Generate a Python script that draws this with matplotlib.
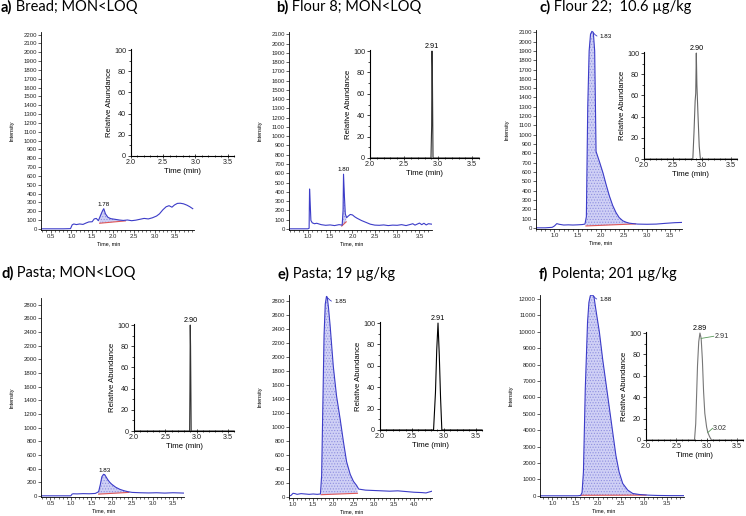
import numpy as np
import matplotlib
matplotlib.use("Agg")
import matplotlib.pyplot as plt
from matplotlib.ticker import MultipleLocator

plt.rcParams['font.family'] = ['Liberation Sans', 'DejaVu Sans']
plt.rcParams['hatch.linewidth'] = 0.5

W, H = 746, 516

# panel titles
letters = ['a)', 'b)', 'c)', 'd)', 'e)', 'f)']
titles = ['Bread; MON<LOQ', 'Flour 8; MON<LOQ', 'Flour 22;  10.6 µg/kg',
          'Pasta; MON<LOQ', 'Pasta; 19 µg/kg', 'Polenta; 201 µg/kg']

# main chromatograms (Time, min / Intensity)
a_t = [0.27, 0.5, 0.8, 0.98, 1.02, 1.06, 1.12, 1.2, 1.28, 1.35, 1.42, 1.5, 1.55, 1.6, 1.65, 1.7,
       1.75, 1.78, 1.82, 1.88, 1.95, 2.05, 2.15, 2.25, 2.35, 2.45, 2.55, 2.65, 2.75, 2.85, 2.95,
       3.05, 3.12, 3.2, 3.28, 3.35, 3.42, 3.48, 3.55, 3.62, 3.7, 3.78, 3.85, 3.92]
a_i = [0, 0, 0, 2, 45, 55, 48, 55, 50, 65, 78, 80, 112, 118, 92, 150,
       205, 228, 170, 130, 115, 108, 100, 95, 100, 92, 98, 108, 118, 112, 125,
       145, 170, 215, 250, 262, 245, 270, 288, 290, 283, 268, 250, 228]

b_t = [0.58, 0.8, 1.0, 1.03, 1.04, 1.05, 1.07, 1.1, 1.15, 1.2, 1.3, 1.4, 1.5, 1.6, 1.7, 1.77,
       1.79, 1.8, 1.82, 1.84, 1.87, 1.9, 1.95, 2.0, 2.05, 2.1, 2.2, 2.3, 2.4, 2.5, 2.6, 2.7,
       2.8, 2.9, 3.0, 3.1, 3.2, 3.3, 3.35, 3.4, 3.5, 3.55, 3.6, 3.65, 3.7, 3.78]
b_i = [0, 0, 0, 5, 430, 330, 90, 65, 55, 60, 45, 38, 42, 35, 45, 40,
       200, 590, 350, 160, 120, 135, 155, 150, 130, 115, 90, 70, 50, 40, 38, 42,
       35, 40, 38, 45, 35, 48, 55, 40, 62, 45, 60, 42, 55, 50]

c_t = [0.6, 0.8, 0.95, 1.0, 1.05, 1.1, 1.2, 1.3, 1.4, 1.5, 1.6, 1.66, 1.69, 1.72, 1.75, 1.78,
       1.81, 1.84, 1.87, 1.9, 1.98, 2.05, 2.12, 2.19, 2.26, 2.33, 2.4, 2.48, 2.55, 2.62, 2.7,
       2.8, 3.0, 3.2, 3.4, 3.6, 3.76]
c_i = [0, 0, 5, 20, 45, 38, 30, 32, 30, 32, 35, 40, 120, 1300, 1900, 2080,
       2110, 2100, 1900, 820, 700, 590, 460, 340, 240, 165, 110, 75, 60, 50, 45,
       40, 38, 40, 48, 55, 58]

d_t = [0.27, 0.6, 0.9, 1.0, 1.03, 1.06, 1.15, 1.3, 1.45, 1.6, 1.68, 1.72, 1.76, 1.8, 1.83,
       1.86, 1.9, 1.95, 2.0, 2.1, 2.2, 2.3, 2.4, 2.5, 2.7, 2.9, 3.1, 3.3, 3.5, 3.77]
d_i = [0, 0, 0, 0, 25, 30, 28, 32, 30, 35, 60, 160, 280, 315, 310,
       280, 240, 200, 170, 125, 95, 75, 60, 50, 45, 42, 45, 40, 45, 40]

e_t = [0.9, 0.95, 1.0, 1.05, 1.1, 1.2, 1.3, 1.4, 1.5, 1.6, 1.68, 1.71, 1.74, 1.77, 1.8, 1.83,
       1.85, 1.88, 1.92, 2.0, 2.08, 2.17, 2.25, 2.33, 2.42, 2.5, 2.58, 2.63, 2.8, 3.0, 3.2,
       3.4, 3.6, 3.8, 4.0, 4.2, 4.3, 4.45]
e_i = [10, 20, 50, 45, 35, 45, 40, 35, 40, 35, 40, 300, 1300, 2300, 2750, 2860,
       2850, 2700, 2450, 1860, 1440, 1110, 790, 500, 320, 220, 160, 110, 95, 90, 85,
       80, 85, 75, 65, 60, 55, 80]

f_t = [0.73, 1.0, 1.3, 1.55, 1.62, 1.65, 1.68, 1.72, 1.77, 1.8, 1.83, 1.86, 1.88, 1.91, 1.95,
       2.03, 2.10, 2.17, 2.24, 2.32, 2.39, 2.46, 2.54, 2.65, 2.76, 2.9, 3.0, 3.1, 3.3, 3.6, 3.88]
f_i = [0, 0, 0, 0, 20, 200, 1460, 6500, 10600, 11800, 12200, 12250, 12250, 12150, 11400,
       9970, 8350, 6930, 5510, 3890, 2470, 1460, 750, 345, 140, 80, 60, 40, 20, 10, 10]

# integration baselines (start/end time, intensity)
a_bl_t, a_bl_i = [1.68, 2.30], [63, 90]
b_bl_t, b_bl_i = [1.76, 1.86], [30, 75]
c_bl_t, c_bl_i = [1.68, 2.75], [20, 42]
d_bl_t, d_bl_i = [1.68, 2.42], [25, 50]
e_bl_t, e_bl_i = [1.70, 2.60], [30, 50]
f_bl_t, f_bl_i = [1.63, 3.05], [30, 40]

# apex labels of the main peaks
main_rt = [1.78, 1.80, 1.83, 1.83, 1.85, 1.88]

# insets (Time, min / Relative Abundance)
ins_a_t, ins_a_r = [], []
ins_b_t = [2.0, 2.895, 2.905, 2.91, 2.915, 2.925, 3.6]
ins_b_r = [0, 0, 30, 100, 85, 0, 0]
ins_c_t = [2.0, 2.84, 2.86, 2.88, 2.89, 2.90, 2.91, 2.93, 2.95, 2.97, 3.6]
ins_c_r = [0, 0, 25, 55, 62, 100, 70, 40, 12, 0, 0]
ins_d_t = [2.0, 2.89, 2.895, 2.90, 2.905, 2.915, 3.6]
ins_d_r = [0, 0, 40, 100, 80, 0, 0]
ins_e_t = [2.0, 2.84, 2.87, 2.89, 2.91, 2.93, 2.95, 2.97, 3.6]
ins_e_r = [0, 0, 35, 75, 100, 70, 30, 0, 0]
ins_f_t = [2.0, 2.8, 2.82, 2.85, 2.87, 2.89, 2.91, 2.93, 2.95, 2.97, 3.0, 3.02, 3.05, 3.08, 3.6]
ins_f_r = [0, 0, 15, 70, 92, 100, 95, 75, 45, 25, 12, 7, 3, 0, 0]
ins_rt = [None, '2.91', '2.90', '2.90', '2.91', '2.89']
ins_color = ['#333333', '#333333', '#666666', '#333333', '#000000', '#777777']

mains = [(a_t, a_i, a_bl_t, a_bl_i), (b_t, b_i, b_bl_t, b_bl_i), (c_t, c_i, c_bl_t, c_bl_i),
         (d_t, d_i, d_bl_t, d_bl_i), (e_t, e_i, e_bl_t, e_bl_i), (f_t, f_i, f_bl_t, f_bl_i)]
insets = [(ins_a_t, ins_a_r), (ins_b_t, ins_b_r), (ins_c_t, ins_c_r),
          (ins_d_t, ins_d_r), (ins_e_t, ins_e_r), (ins_f_t, ins_f_r)]

# layout in pixels: left, right, y of zero, y of top
main_box = [(41, 194, 230, 32), (289, 432, 230, 32), (536, 682, 229, 30),
            (41, 184, 497, 298), (289, 432, 498, 295), (540, 684, 497, 295)]
main_xlim = [(0.27, 3.95), (0.58, 3.78), (0.6, 3.76), (0.27, 3.77), (0.9, 4.45), (0.73, 3.88)]
main_ytop = [2230, 2125, 2125, 2900, 2880, 12250]
main_ystep = [100, 100, 100, 200, 200, 1000]
label_side = ['top', 'top', 'right', 'top', 'right', 'right']
ins_box = [(131, 234, 156, 49), (370, 479, 158, 50), (644, 737, 159, 52),
           (134, 234, 431, 324), (380, 482, 430, 322), (646, 743, 440, 332)]
title_pos = [(1, 7), (276, 7), (539, 7), (1, 273), (277, 274), (539, 274)]

BLUE = '#3c3cc8'
RED = '#e05858'


def px_box(l, r, b, t):
    return [l / W, 1 - b / H, (r - l) / W, (b - t) / H]


fig = plt.figure(figsize=(W / 100, H / 100), dpi=100)

for k in range(6):
    t, y, blt, bly = mains[k]
    t = np.array(t)
    y = np.array(y)
    l, r, b, tp = main_box[k]
    ax = fig.add_axes(px_box(l, r, b, tp))
    ytop = main_ytop[k]
    # hatched integrated area between trace and baseline
    sel = (t >= blt[0]) & (t <= blt[1])
    tt = np.concatenate([[blt[0]], t[sel], [blt[1]]])
    yy = np.concatenate([[np.interp(blt[0], t, y)], y[sel], [np.interp(blt[1], t, y)]])
    base = np.interp(tt, blt, bly)
    ax.fill_between(tt, base, yy, facecolor='#cfd0f5', edgecolor='#8f8fe0',
                    hatch='......', linewidth=0)
    ax.plot(blt, bly, color=RED, lw=0.8)
    ax.plot(t, y, color=BLUE, lw=0.8)
    ax.set_xlim(*main_xlim[k])
    ax.set_ylim(-ytop * 0.006, ytop)
    ax.yaxis.set_major_locator(MultipleLocator(main_ystep[k]))
    ax.xaxis.set_major_locator(MultipleLocator(0.5))
    ax.xaxis.set_minor_locator(MultipleLocator(0.1))
    ax.xaxis.set_major_formatter(lambda v, p: '%.1f' % v)
    ax.yaxis.set_major_formatter(lambda v, p: '%d' % round(v))
    for s in ['top', 'right']:
        ax.spines[s].set_visible(False)
    for s in ['left', 'bottom']:
        ax.spines[s].set_linewidth(0.6)
    ax.tick_params(which='major', labelsize=4.3, length=2, width=0.5, pad=1, colors='#222222')
    ax.tick_params(which='minor', length=1.2, width=0.4)
    # axis titles placed in figure pixels
    fig.text((l - 29) / W, 1 - (b + tp) / 2 / H, 'Intensity', fontsize=4, rotation=90,
             ha='center', va='center')
    fig.text((l + 0.44 * (r - l)) / W, 1 - (b + 14) / H, 'Time, min', fontsize=3.8,
             ha='center', va='center')
    rt = main_rt[k]
    apex = np.interp(rt, t, y)
    if label_side[k] == 'top':
        ax.annotate('%.2f' % rt, (rt, apex), xytext=(0, 1.5), textcoords='offset points',
                    ha='center', va='bottom', fontsize=4.5)
    else:
        ax.annotate('%.2f' % rt, (rt, apex), xytext=(5, -3), textcoords='offset points',
                    ha='left', va='center', fontsize=4.5,
                    arrowprops=dict(arrowstyle='-', color=BLUE, lw=0.6,
                                    connectionstyle='arc3,rad=-0.4', shrinkA=0, shrinkB=1))

    # inset
    it, ir = insets[k]
    ia = fig.add_axes(px_box(*ins_box[k]))
    if len(it):
        ia.plot(it, ir, color=ins_color[k], lw=0.8)
    ia.set_xlim(2.0, 3.6)
    ia.set_ylim(0, 101)
    ia.xaxis.set_major_locator(MultipleLocator(0.5))
    ia.xaxis.set_minor_locator(MultipleLocator(0.1))
    ia.yaxis.set_major_locator(MultipleLocator(20))
    ia.yaxis.set_minor_locator(MultipleLocator(10))
    ia.xaxis.set_major_formatter(lambda v, p: '%.1f' % v)
    for s in ['top', 'right']:
        ia.spines[s].set_visible(False)
    for s in ['left', 'bottom']:
        ia.spines[s].set_linewidth(0.8)
    ia.tick_params(which='major', labelsize=5.2, length=2.5, width=0.6, pad=1, colors='#222222')
    ia.tick_params(which='minor', length=1.6, width=0.5)
    ia.tick_params(axis='x', which='both', direction='inout')
    ia.set_ylabel('Relative Abundance', fontsize=5.6, labelpad=1)
    ia.set_xlabel('Time (min)', fontsize=5.6, labelpad=1)
    ia.patch.set_alpha(0)
    if ins_rt[k]:
        pr = float(ins_rt[k])
        ia.annotate(ins_rt[k], (pr, 100), xytext=(0, 1), textcoords='offset points',
                    ha='center', va='bottom', fontsize=5.2)
    if k == 5:
        # extra labelled maxima in polenta inset
        for lab, dx, dy in [('2.91', 0.26, 4), ('3.02', 0.1, 8)]:
            px = float(lab)
            py = np.interp(px, it, ir)
            ia.plot([px, px + dx * 0.8], [py, py + dy * 0.5], color='#5a9a5a', lw=0.6)
            ia.text(px + dx * 0.85, py + dy * 0.5, lab, fontsize=5.2, ha='left', va='center',
                    color='#333333')

    # title with bold letter
    x0, y0 = title_pos[k]
    bt = fig.text(x0 / W, 1 - y0 / H, letters[k], fontsize=10.5, fontweight='bold',
                  family='Lato', va='center', ha='left')
    ax.annotate(' ' + titles[k], xy=(1, 0), xycoords=bt, ha='left', va='bottom',
                fontsize=10.5, family='Lato', annotation_clip=False)

fig.savefig('out.png', dpi=100)
